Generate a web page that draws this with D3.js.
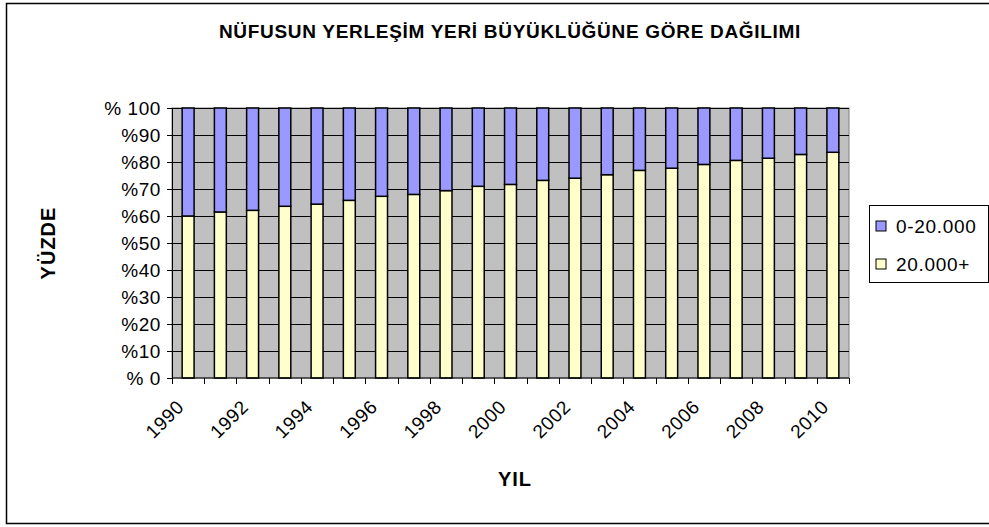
<!DOCTYPE html>
<html>
<head>
<meta charset="utf-8">
<script src="https://cdn.jsdelivr.net/npm/d3@7"></script>
<style>
  body { margin: 0; background: #fff; }
  svg { display: block; font-family: Arial, "Liberation Sans", sans-serif; }
</style>
</head>
<body>
<svg id="chart" width="989" height="527"></svg>
<script>
var years = [1990, 1991, 1992, 1993, 1994, 1995, 1996, 1997, 1998, 1999, 2000,
             2001, 2002, 2003, 2004, 2005, 2006, 2007, 2008, 2009, 2010];
// share of population living in places of 20.000+ (percent)
var big = [60.0, 61.5, 62.1, 63.6, 64.4, 65.8, 67.3, 68.0, 69.4, 71.0, 71.7,
           73.2, 74.0, 75.3, 76.9, 77.7, 79.1, 80.6, 81.4, 82.8, 83.6];
var small = big.map(function (v) { return 100 - v; });
var yTicks = [0, 10, 20, 30, 40, 50, 60, 70, 80, 90, 100];
var yTickLabels = ["% 0", "%10", "%20", "%30", "%40", "%50", "%60", "%70", "%80", "%90", "% 100"];
var seriesNames = ["0-20.000", "20.000+"];
var seriesColors = ["#9999ff", "#ffffcc"];

var svg = d3.select("#chart");

var plotLeft = 172, plotRight = 849, plotTop = 108, plotBottom = 378;

// outer chart border (runs past the right edge)
svg.append("rect")
    .attr("x", 6.5).attr("y", 3.5)
    .attr("width", 1000).attr("height", 520)
    .attr("fill", "none").attr("stroke", "#000").attr("stroke-width", 1.5);

var x = d3.scaleBand()
    .domain(years)
    .range([plotLeft, plotRight])
    .paddingInner(0.63)
    .paddingOuter(0.315);

var y = d3.scaleLinear()
    .domain([0, 100])
    .range([plotBottom, plotTop]);

//plot background
svg.append("rect")
    .attr("x", plotLeft).attr("y", plotTop)
    .attr("width", plotRight - plotLeft).attr("height", plotBottom - plotTop)
    .attr("fill", "#c0c0c0").attr("stroke", "#808080");

//gridlines
svg.append("g")
    .selectAll("line")
    .data(yTicks.slice(1))
    .enter().append("line")
    .attr("x1", plotLeft).attr("x2", plotRight)
    .attr("y1", function (d) { return Math.round(y(d)) + 0.5; })
    .attr("y2", function (d) { return Math.round(y(d)) + 0.5; })
    .attr("stroke", "#000").attr("stroke-width", 1);

//stacked bars
var stack = years.map(function (yr, i) {
    return { year: yr, big: big[i], small: small[i] };
});

var bars = svg.append("g");
bars.selectAll("rect.big")
    .data(stack)
    .enter().append("rect")
    .attr("class", "big")
    .attr("x", function (d) { return x(d.year); })
    .attr("width", x.bandwidth())
    .attr("y", function (d) { return y(d.big); })
    .attr("height", function (d) { return y(0) - y(d.big); })
    .attr("fill", seriesColors[1]).attr("stroke", "#000").attr("stroke-width", 1.5);

bars.selectAll("rect.small")
    .data(stack)
    .enter().append("rect")
    .attr("class", "small")
    .attr("x", function (d) { return x(d.year); })
    .attr("width", x.bandwidth())
    .attr("y", function (d) { return y(d.big + d.small); })
    .attr("height", function (d) { return y(d.big) - y(d.big + d.small); })
    .attr("fill", seriesColors[0]).attr("stroke", "#000").attr("stroke-width", 1.5);

//y axis
var yAxis = d3.axisLeft(y)
    .tickValues(yTicks)
    .tickSize(5)
    .tickPadding(6)
    .tickFormat(function (d, i) { return yTickLabels[i]; });

var gy = svg.append("g")
    .attr("transform", "translate(" + plotLeft + ",0)")
    .call(yAxis);
gy.select(".domain").attr("stroke", "#000");
gy.selectAll("text")
    .attr("font-size", 19)
    .attr("letter-spacing", 0.6)
    .attr("fill", "#000");

//x axis line with ticks between categories
var nCat = years.length;
svg.append("line")
    .attr("x1", plotLeft).attr("x2", plotRight)
    .attr("y1", plotBottom).attr("y2", plotBottom)
    .attr("stroke", "#000");
svg.append("g")
    .selectAll("line")
    .data(d3.range(nCat + 1))
    .enter().append("line")
    .attr("x1", function (i) { return Math.round(plotLeft + i * (plotRight - plotLeft) / nCat) + 0.5; })
    .attr("x2", function (i) { return Math.round(plotLeft + i * (plotRight - plotLeft) / nCat) + 0.5; })
    .attr("y1", plotBottom).attr("y2", plotBottom + 6)
    .attr("stroke", "#000");

//x labels every other year, rotated
svg.append("g")
    .selectAll("text")
    .data(years.filter(function (d, i) { return i % 2 === 0; }))
    .enter().append("text")
    .attr("transform", function (d) {
        return "translate(" + (x(d) + x.bandwidth() / 2 - 3) + "," + (plotBottom + 30) + ") rotate(-45)";
    })
    .attr("text-anchor", "end")
    .attr("font-size", 19)
    .attr("letter-spacing", 0.6)
    .text(function (d) { return d; });

//titles
svg.append("text")
    .attr("x", 510).attr("y", 38)
    .attr("text-anchor", "middle")
    .attr("font-size", 19).attr("font-weight", "bold")
    .attr("letter-spacing", 0.7)
    .text("NÜFUSUN YERLEŞİM  YERİ BÜYÜKLÜĞÜNE GÖRE DAĞILIMI");

svg.append("text")
    .attr("x", 515).attr("y", 486)
    .attr("text-anchor", "middle")
    .attr("font-size", 20).attr("font-weight", "bold")
    .attr("letter-spacing", 1)
    .text("YIL");

svg.append("text")
    .attr("transform", "translate(55,243) rotate(-90)")
    .attr("text-anchor", "middle")
    .attr("font-size", 20).attr("font-weight", "bold")
    .attr("letter-spacing", 1)
    .text("YÜZDE");

//legend
var legend = svg.append("g").attr("transform", "translate(869,205)");
legend.append("rect")
    .attr("x", 0.5).attr("y", 0.5)
    .attr("width", 119).attr("height", 77)
    .attr("fill", "#fff").attr("stroke", "#000");
var items = legend.selectAll("g.item")
    .data(seriesNames)
    .enter().append("g")
    .attr("class", "item")
    .attr("transform", function (d, i) { return "translate(0," + (20 + i * 38) + ")"; });
items.append("rect")
    .attr("x", 7).attr("y", -4)
    .attr("width", 10).attr("height", 10)
    .attr("fill", function (d, i) { return seriesColors[i]; })
    .attr("stroke", "#000");
items.append("text")
    .attr("x", 27).attr("y", 8)
    .attr("font-size", 19)
    .attr("letter-spacing", 0.7)
    .text(function (d) { return d; });
</script>
</body>
</html>
